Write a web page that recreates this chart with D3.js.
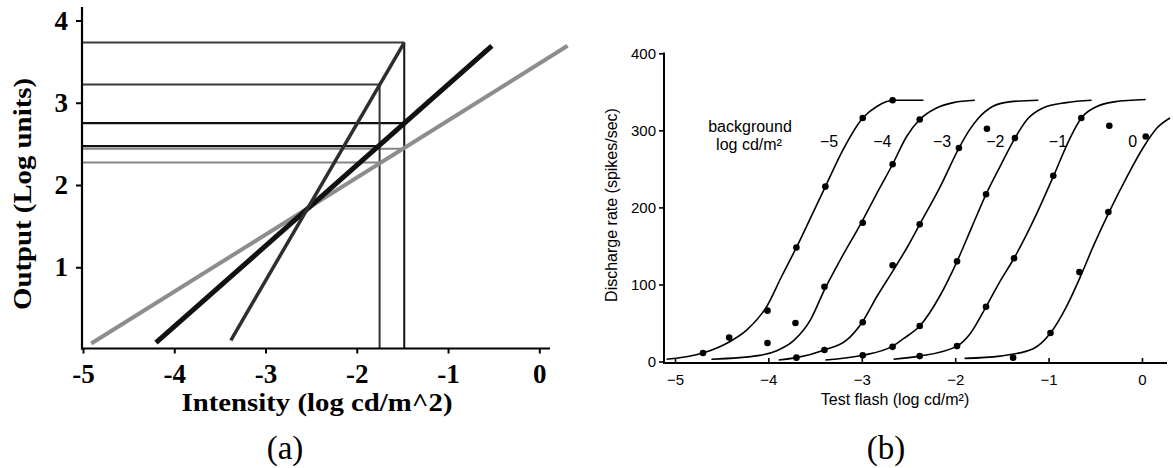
<!DOCTYPE html>
<html>
<head>
<meta charset="utf-8">
<script src="https://cdn.jsdelivr.net/npm/d3@7"></script>
<style>
  html, body { margin: 0; padding: 0; background: #fff; }
  svg { display: block; }
</style>
</head>
<body>
<div class="canvas"></div>
<script>
'use strict';

// ---- panel (a): model lines, log output vs log intensity ----
const aTicksX = [-5, -4, -3, -2, -1, 0];
const aTicksY = [1, 2, 3, 4];
const shallowLine = [[-4.91, 0.06], [0.31, 3.68]];
const unitLine = [[-4.2, 0.07], [-0.52, 3.68]];
const steepLine = [[-3.38, 0.1], [-1.48, 3.72]];
const flashes = [-1.75, -1.48];
const flashTops = [3.21, 3.72];
const levels = [3.72, 3.21, 2.74, 2.46, 2.43, 2.26];
const levelFlash = [-1.48, -1.75, -1.48, -1.75, -1.48, -1.75];
const levelLine = ['steep', 'steep', 'unit', 'unit', 'shallow', 'shallow'];

// ---- panel (b): discharge rate vs test flash, one curve per background ----
const bTicksX = [-5, -4, -3, -2, -1, 0];
const bTicksY = [0, 100, 200, 300, 400];
const backgrounds = ['−5', '−4', '−3', '−2', '−1', '0'];

const fitM5 = [[-5.09, 3], [-4.7, 11], [-4.41, 26], [-4.23, 41], [-4.02, 71], [-3.86, 110], [-3.7, 148], [-3.55, 186], [-3.39, 227], [-3.2, 275], [-2.99, 316], [-2.84, 331], [-2.66, 339], [-2.34, 339]];
const fitM4 = [[-4.61, 3], [-4.09, 8], [-3.91, 14], [-3.73, 27], [-3.55, 54], [-3.4, 93], [-3.23, 132], [-3.01, 179], [-2.84, 218], [-2.67, 256], [-2.52, 292], [-2.38, 314], [-2.2, 329], [-2.02, 336], [-1.79, 339]];
const fitM3 = [[-3.89, 2], [-3.7, 5], [-3.4, 15], [-3.16, 28], [-2.99, 52], [-2.84, 84], [-2.67, 117], [-2.52, 147], [-2.38, 178], [-2.16, 227], [-1.96, 277], [-1.85, 300], [-1.75, 316], [-1.6, 331], [-1.42, 337], [-1.11, 339]];
const fitM2 = [[-3.39, 2], [-2.99, 8], [-2.67, 20], [-2.55, 30], [-2.38, 46], [-2.16, 86], [-1.98, 130], [-1.82, 175], [-1.67, 217], [-1.52, 253], [-1.36, 290], [-1.23, 314], [-1.06, 329], [-0.81, 336], [-0.54, 339]];
const fitM1 = [[-2.66, 3], [-2.38, 7], [-1.98, 20], [-1.84, 36], [-1.67, 71], [-1.52, 104], [-1.37, 134], [-1.15, 186], [-0.95, 240], [-0.77, 290], [-0.65, 316], [-0.5, 330], [-0.3, 337], [0.04, 340]];
const fit0 = [[-1.9, 4], [-1.52, 7], [-1.16, 17], [-0.98, 37], [-0.81, 71], [-0.66, 110], [-0.52, 150], [-0.36, 192], [-0.16, 240], [0.02, 279], [0.16, 303], [0.3, 316]];

const dotsM5 = [[-4.7, 11], [-4.42, 31], [-4.01, 66], [-3.7, 148], [-3.39, 227], [-2.99, 316], [-2.67, 339]];
const dotsM4 = [[-4.01, 24], [-3.71, 50], [-3.4, 97], [-2.99, 180], [-2.67, 256], [-2.38, 314]];
const dotsM3 = [[-3.7, 5], [-3.4, 15], [-2.99, 51], [-2.67, 125], [-2.38, 178], [-1.96, 277], [-1.66, 302]];
const dotsM2 = [[-2.99, 8], [-2.67, 19], [-2.38, 46], [-1.98, 130], [-1.67, 217], [-1.36, 290]];
const dotsM1 = [[-2.38, 7], [-1.98, 20], [-1.67, 71], [-1.37, 134], [-0.95, 241], [-0.65, 316]];
const dots0 = [[-1.38, 5], [-0.98, 37], [-0.67, 116], [-0.36, 194], [-0.35, 306], [0.04, 292]];

const fits = [fitM5, fitM4, fitM3, fitM2, fitM1, fit0];
const dots = [dotsM5, dotsM4, dotsM3, dotsM2, dotsM1, dots0];

const svg = d3
  .select('.canvas')
  .append('svg')
  .attr('width', 1173)
  .attr('height', 468);

svg.append('rect').attr('width', 1173).attr('height', 468).attr('fill', '#fff');

// ================= panel (a) =================
const serif = "'Liberation Serif', 'Times New Roman', serif";
const xA = d3.scaleLinear().domain([-5, 0]).range([83, 539.3]);
const yA = d3.scaleLinear().domain([0, 4]).range([348.5, 19.5]);

const lineStyle = {
  steep: { stroke: '#2e2e2e', width: 3.5, guide: '#3a3a3a' },
  unit: { stroke: '#111', width: 5, guide: '#111' },
  shallow: { stroke: '#8d8d8d', width: 4, guide: '#858585' },
};

const panelA = svg.append('g');

// guide lines from the axis to each flash
panelA
  .selectAll('line.level')
  .data(levels)
  .enter()
  .append('line')
  .attr('class', 'level')
  .attr('x1', 82)
  .attr('x2', (d, i) => xA(levelFlash[i]))
  .attr('y1', d => yA(d))
  .attr('y2', d => yA(d))
  .attr('stroke', (d, i) => lineStyle[levelLine[i]].guide)
  .attr('stroke-width', (d, i) => (levelLine[i] === 'unit' ? 2.3 : 2));

panelA
  .selectAll('line.flash')
  .data(flashes)
  .enter()
  .append('line')
  .attr('class', 'flash')
  .attr('x1', d => xA(d))
  .attr('x2', d => xA(d))
  .attr('y1', yA(0))
  .attr('y2', (d, i) => yA(flashTops[i]))
  .attr('stroke', (d, i) => (i === 0 ? '#333' : '#111'))
  .attr('stroke-width', 2);

const lineA = d3
  .line()
  .x(d => xA(d[0]))
  .y(d => yA(d[1]));

[
  ['shallow', shallowLine],
  ['unit', unitLine],
  ['steep', steepLine],
].forEach(([name, pts]) => {
  panelA
    .append('path')
    .datum(pts)
    .attr('d', lineA)
    .attr('fill', 'none')
    .attr('stroke', lineStyle[name].stroke)
    .attr('stroke-width', lineStyle[name].width);
});

// axes (a)
const yAxisA = d3
  .axisLeft(yA)
  .tickValues(aTicksY)
  .tickSize(6)
  .tickPadding(8)
  .tickFormat(d => String(d));
const xAxisA = d3
  .axisBottom(xA)
  .tickValues(aTicksX)
  .tickSize(5)
  .tickPadding(10)
  .tickFormat(d => String(d));

const yAxisAGroup = panelA.append('g').attr('transform', 'translate(82,1)').call(yAxisA);
const xAxisAGroup = panelA.append('g').attr('transform', `translate(0,${yA(0)})`).call(xAxisA);

[yAxisAGroup, xAxisAGroup].forEach(g => {
  g.select('.domain').remove();
  g.selectAll('line').attr('stroke', '#000').attr('stroke-width', 2);
  g.selectAll('text')
    .attr('fill', '#000')
    .style('font-family', serif)
    .style('font-weight', 'bold')
    .style('font-size', '27px');
});

panelA
  .append('line')
  .attr('x1', 82).attr('x2', 82)
  .attr('y1', 7).attr('y2', yA(0) + 1)
  .attr('stroke', '#000').attr('stroke-width', 2.2);
panelA
  .append('line')
  .attr('x1', 81).attr('x2', 550)
  .attr('y1', yA(0)).attr('y2', yA(0))
  .attr('stroke', '#000').attr('stroke-width', 2.2);

panelA
  .append('text')
  .attr('x', 317)
  .attr('y', 411)
  .attr('text-anchor', 'middle')
  .attr('textLength', 271)
  .attr('lengthAdjust', 'spacingAndGlyphs')
  .style('font-family', serif)
  .style('font-weight', 'bold')
  .style('font-size', '25px')
  .text('Intensity (log cd/m^2)');

panelA
  .append('text')
  .attr('transform', 'translate(31,194) rotate(-90)')
  .attr('text-anchor', 'middle')
  .attr('textLength', 232)
  .attr('lengthAdjust', 'spacingAndGlyphs')
  .style('font-family', serif)
  .style('font-weight', 'bold')
  .style('font-size', '26px')
  .text('Output (Log units)');

panelA
  .append('text')
  .attr('x', 285)
  .attr('y', 459)
  .attr('text-anchor', 'middle')
  .style('font-family', serif)
  .style('font-size', '33px')
  .text('(a)');

// ================= panel (b) =================
const sans = "'Liberation Sans', Arial, Helvetica, sans-serif";
const xB = d3.scaleLinear().domain([-5, 0]).range([675, 1142]);
const yB = d3.scaleLinear().domain([0, 400]).range([361.5, 53.3]);

const panelB = svg.append('g');

const lineB = d3
  .line()
  .x(d => xB(d[0]))
  .y(d => yB(d[1]))
  .curve(d3.curveMonotoneX);

panelB
  .selectAll('path.fit')
  .data(fits)
  .enter()
  .append('path')
  .attr('class', 'fit')
  .attr('d', lineB)
  .attr('fill', 'none')
  .attr('stroke', '#000')
  .attr('stroke-width', 1.6);

panelB
  .selectAll('g.dots')
  .data(dots)
  .enter()
  .append('g')
  .attr('class', 'dots')
  .selectAll('circle')
  .data(d => d)
  .enter()
  .append('circle')
  .attr('cx', d => xB(d[0]))
  .attr('cy', d => yB(d[1]))
  .attr('r', 3.3)
  .attr('fill', '#000');

// axes (b)
const minus = d => (d < 0 ? '−' + Math.abs(d) : String(d));
const yAxisB = d3.axisLeft(yB).tickValues(bTicksY).tickSize(5).tickPadding(3);
const xAxisB = d3
  .axisBottom(xB)
  .tickValues(bTicksX)
  .tickSizeInner(-5)
  .tickSizeOuter(0)
  .tickPadding(11)
  .tickFormat(minus);

const yAxisBGroup = panelB.append('g').attr('transform', 'translate(664,0)').call(yAxisB);
const xAxisBGroup = panelB.append('g').attr('transform', 'translate(0,363)').call(xAxisB);

[yAxisBGroup, xAxisBGroup].forEach(g => {
  g.select('.domain').remove();
  g.selectAll('line').attr('stroke', '#000').attr('stroke-width', 1.6);
  g.selectAll('text')
    .attr('fill', '#000')
    .style('font-family', sans)
    .style('font-size', '15px');
});

panelB
  .append('line')
  .attr('x1', 664).attr('x2', 664)
  .attr('y1', 52.5).attr('y2', 364)
  .attr('stroke', '#000').attr('stroke-width', 2);
panelB
  .append('line')
  .attr('x1', 663).attr('x2', 1167)
  .attr('y1', 363).attr('y2', 363)
  .attr('stroke', '#000').attr('stroke-width', 2);

// curve labels, placed in data units just left of each curve
const labelSpots = [-3.35, -2.78, -2.14, -1.57, -0.9, -0.1];
panelB
  .selectAll('text.bg')
  .data(backgrounds)
  .enter()
  .append('text')
  .attr('class', 'bg')
  .attr('x', (d, i) => xB(labelSpots[i]))
  .attr('y', yB(278))
  .attr('text-anchor', 'middle')
  .style('font-family', sans)
  .style('font-size', '16px')
  .text(d => d);

panelB
  .append('text')
  .attr('x', 750)
  .attr('y', 131.5)
  .attr('text-anchor', 'middle')
  .style('font-family', sans)
  .style('font-size', '16px')
  .text('background');
panelB
  .append('text')
  .attr('x', 749)
  .attr('y', 150)
  .attr('text-anchor', 'middle')
  .style('font-family', sans)
  .style('font-size', '16px')
  .text('log cd/m²');

panelB
  .append('text')
  .attr('x', 895)
  .attr('y', 405)
  .attr('text-anchor', 'middle')
  .style('font-family', sans)
  .style('font-size', '16px')
  .text('Test flash (log cd/m²)');

panelB
  .append('text')
  .attr('transform', 'translate(617,205) rotate(-90)')
  .attr('text-anchor', 'middle')
  .style('font-family', sans)
  .style('font-size', '16px')
  .text('Discharge rate (spikes/sec)');

panelB
  .append('text')
  .attr('x', 886)
  .attr('y', 459)
  .attr('text-anchor', 'middle')
  .style('font-family', serif)
  .style('font-size', '33px')
  .text('(b)');
</script>
</body>
</html>
